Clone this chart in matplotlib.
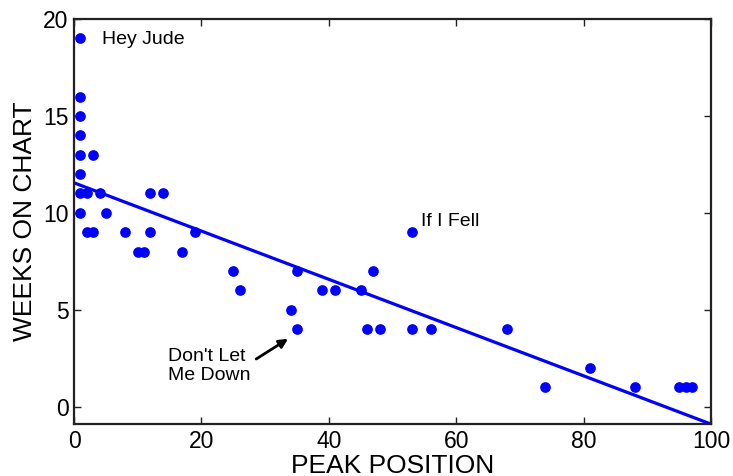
import numpy as np
import matplotlib
matplotlib.use('Agg')
import matplotlib.pyplot as plt

plt.rcParams['font.family'] = ['Liberation Sans', 'DejaVu Sans']

# peak position vs weeks on chart
peak = [1, 1, 1, 1, 1, 1, 1, 1, 2, 2, 3, 3, 4, 5, 8, 10, 11, 12, 12, 14, 17, 19,
        25, 26, 34, 35, 35, 39, 41, 45, 46, 47, 48, 53, 53, 56, 68, 74, 81, 88,
        95, 96, 97]
weeks = [19, 16, 15, 14, 13, 12, 11, 10, 11, 9, 13, 9, 11, 10, 9, 8, 8, 11, 9, 11, 8, 9,
         7, 6, 5, 4, 7, 6, 6, 6, 4, 7, 4, 9, 4, 4, 4, 1, 2, 1,
         1, 1, 1]

# fitted line end points
fit_x = [0, 100]
fit_y = [11.55, -0.9]

xticks = [0, 20, 40, 60, 80, 100]
yticks = [0, 5, 10, 15, 20]

fig = plt.figure(figsize=(7.33, 4.76), dpi=100)
ax = fig.add_axes([0.101, 0.109, 0.869, 0.851])

ax.plot(fit_x, fit_y, color='#0000ff', lw=2.3, solid_capstyle='butt')
ax.plot(peak, weeks, 'o', color='#0000ff', markersize=7.7, markeredgewidth=0)

ax.set_xlim(0, 100)
ax.set_ylim(-0.9, 20)
ax.set_xticks(xticks)
ax.set_yticks(yticks)
ax.tick_params(direction='in', length=5, width=1, top=True, right=True,
               labelsize=16.5, pad=4, color='#222222')
for s in ax.spines.values():
    s.set_linewidth(1.6)
    s.set_color('#222222')

ax.set_xlabel('PEAK POSITION', fontsize=19, labelpad=1)
ax.set_ylabel('WEEKS ON CHART', fontsize=19, labelpad=4)

# song labels
ax.text(4.35, 18.93, 'Hey Jude', fontsize=14, va='center', ha='left')
ax.text(54.4, 9.53, 'If I Fell', fontsize=14, va='center', ha='left')
ax.text(14.8, 2.1, "Don't Let\nMe Down", fontsize=14, va='center', ha='left',
        linespacing=1.2)
ax.annotate('', xy=(33.6, 3.5), xytext=(28.6, 2.46),
            arrowprops=dict(arrowstyle='-|>', color='black', lw=2,
                            mutation_scale=13, shrinkA=0, shrinkB=0))

fig.savefig('out.png', dpi=100)
